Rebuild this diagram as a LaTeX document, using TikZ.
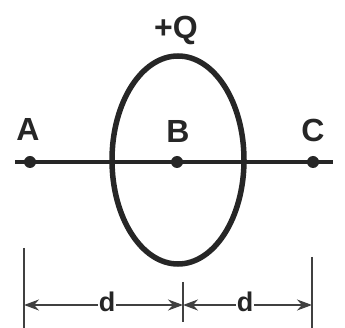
\documentclass[tikz,border=0pt]{standalone}
\usepackage{fontspec}
\setmainfont{Liberation Sans}
\usetikzlibrary{arrows.meta,shapes.geometric}
\begin{document}
\begin{tikzpicture}[x=1pt,y=-1pt,
  lbl/.style={font=\fontsize{32}{33}\selectfont\bfseries, inner sep=0pt, text=black!85},
  dlbl/.style={font=\fontsize{27}{28}\selectfont\bfseries, inner sep=1pt, text=black!85},
  pt/.style={circle, fill=black!85, inner sep=0pt, minimum size=12pt},
  tick/.style={line width=1.8pt, black!75},
  dim/.style={line width=1.8pt, black!75, -{Stealth[length=15pt,width=11pt]}}]
\useasboundingbox (0,0) rectangle (345,328);
% main axis line
\coordinate (L) at (15,162);
\coordinate (R) at (333,162);
\draw[line width=3.5pt, black!85] (L) -- (R);
% ring
\node[draw=black!85, line width=5.5pt, ellipse, inner sep=0pt,
      minimum width=132pt, minimum height=208pt] (ring) at (178,160) {};
% points
\node[pt] (A) at (30,162) {};
\node[pt] (B) at (177,162) {};
\node[pt] (C) at (313,162) {};
\node[lbl] (lA) at (28,129) {A};
\node[lbl] (lB) at (178,131) {B};
\node[lbl] (lC) at (313,130) {C};
\node[lbl] (Q) at (176,30) {+Q};
% dimension ticks
\coordinate (t1a) at (24,248);
\coordinate (t1b) at (24,328);
\coordinate (t2a) at (183,282);
\coordinate (t2b) at (183,322);
\coordinate (t3a) at (312,257);
\coordinate (t3b) at (312,328);
\draw[tick] (t1a) -- (t1b);
\draw[tick] (t2a) -- (t2b);
\draw[tick] (t3a) -- (t3b);
% d labels
\node[dlbl] (d1) at (107,302) {d};
\node[dlbl] (d2) at (245,302) {d};
\coordinate (e1) at (24,305);
\coordinate (e2) at (183,305);
\coordinate (e3) at (312,305);
\draw[dim] (d1.west |- e1) -- (e1);
\draw[dim] (d1.east |- e2) -- (e2);
\draw[dim] (d2.west |- e2) -- (e2);
\draw[dim] (d2.east |- e3) -- (e3);
\end{tikzpicture}
\end{document}
